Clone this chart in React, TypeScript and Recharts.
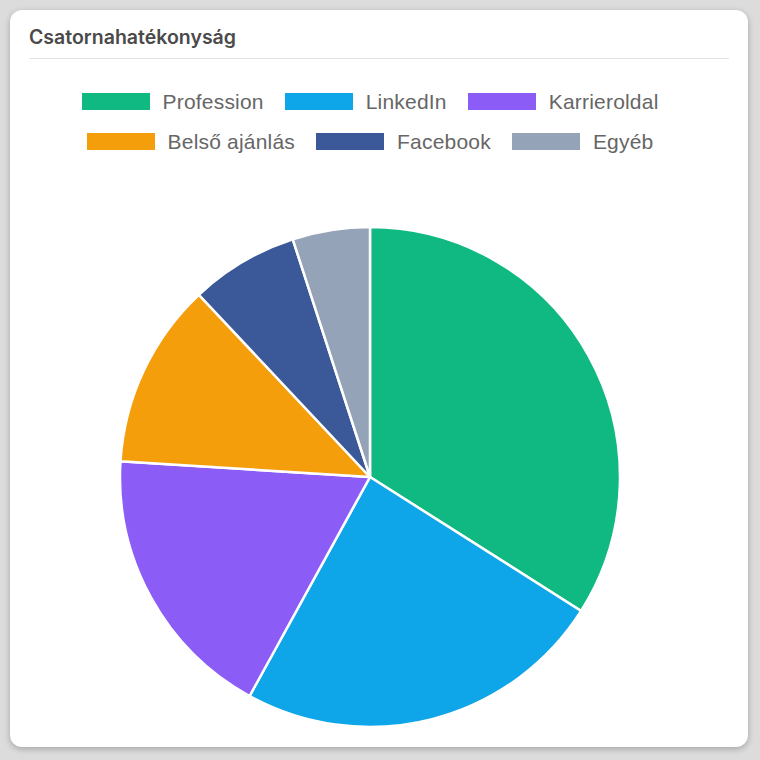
import { PieChart, Pie, Cell, Legend } from 'recharts';

const channels = ['Profession', 'LinkedIn', 'Karrieroldal', 'Belső ajánlás', 'Facebook', 'Egyéb'];
const shares = [34, 24, 18, 12, 7, 5];
const colors = ['#10b981', '#0ea5e9', '#8b5cf6', '#f59e0b', '#3b5998', '#94a3b8'];

const data = channels.map((name, i) => ({ name, value: shares[i] }));

const legendFont = '"Liberation Sans", Arial, Helvetica, sans-serif';

// two rows of three, like the original legend
const renderLegend = () => {
  const rows = [data.slice(0, 3), data.slice(3, 6)];
  return (
    <div style={{ display: 'flex', flexDirection: 'column', alignItems: 'center', gap: 17 }}>
      {rows.map((row, r) => (
        <div key={r} style={{ display: 'flex', alignItems: 'center', gap: 21 }}>
          {row.map((d) => {
            const idx = channels.indexOf(d.name);
            return (
              <div key={d.name} style={{ display: 'flex', alignItems: 'center' }}>
                <span style={{ width: 68, height: 17, background: colors[idx], display: 'inline-block', marginRight: 13 }} />
                <span style={{ fontFamily: legendFont, fontSize: 21, letterSpacing: 0.2, color: '#666', lineHeight: '23px' }}>
                  {d.name}
                </span>
              </div>
            );
          })}
        </div>
      ))}
    </div>
  );
};

export default function App() {
  return (
    <div style={{ position: 'absolute', left: 0, top: 0, width: 760, height: 760, background: '#dcdcdc' }}>
      <div
        style={{
          position: 'absolute',
          left: 10,
          top: 10,
          width: 738,
          height: 737,
          background: '#fff',
          borderRadius: 12,
          boxShadow: '0 2px 6px rgba(0,0,0,0.25)',
        }}
      >
        <div
          style={{
            position: 'absolute',
            left: 19,
            top: 15,
            fontFamily: 'Inter, "Liberation Sans", sans-serif',
            fontWeight: 600,
            fontSize: 19.5,
            color: '#4a4a4a',
          }}
        >
          Csatornahatékonyság
        </div>
        <div style={{ position: 'absolute', left: 19, top: 48, width: 700, height: 1, background: '#e3e3e3' }} />
        <div style={{ position: 'absolute', left: 0, top: 60 }}>
          <PieChart width={738} height={676} margin={{ top: 0, right: 0, bottom: 0, left: 0 }}>
            <Legend
              layout="horizontal"
              verticalAlign="middle"
              align="center"
              content={renderLegend}
              wrapperStyle={{ top: 20, left: 0, width: 720 }}
            />
            <Pie
              data={data}
              dataKey="value"
              nameKey="name"
              cx={360}
              cy={407}
              outerRadius={250}
              startAngle={90}
              endAngle={-270}
              stroke="#fff"
              strokeWidth={2.5}
              isAnimationActive={false}
            >
              {data.map((d, i) => (
                <Cell key={d.name} fill={colors[i]} />
              ))}
            </Pie>
          </PieChart>
        </div>
      </div>
    </div>
  );
}
